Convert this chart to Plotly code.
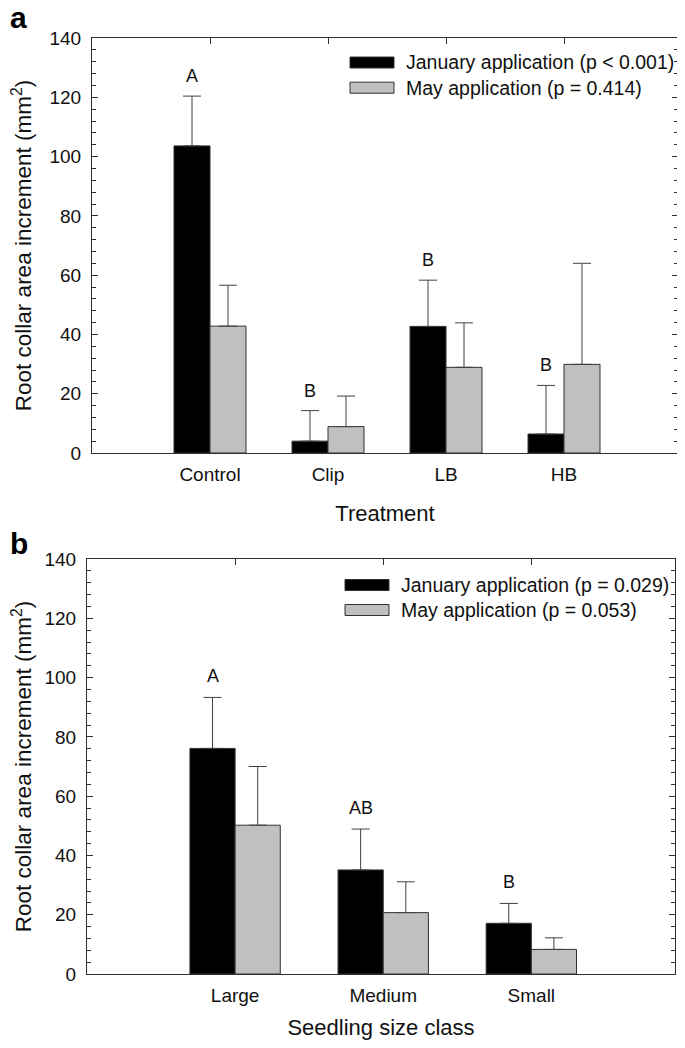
import plotly.graph_objects as go

# page body has an 8px default margin: the figure is drawn from (8, 8)
PAGE_W, PAGE_H = 685, 1048
OFFS = 8
W, H = PAGE_W - OFFS, PAGE_H - 2 * OFFS

# ---------------- data ----------------
treatments = ["Control", "Clip", "LB", "HB"]
jan_a = [103.6, 4.0, 42.7, 6.4]
jan_a_err = [16.8, 10.3, 15.6, 16.4]
may_a = [42.8, 8.9, 28.9, 29.9]
may_a_err = [13.8, 10.3, 15.0, 34.1]
letters_a = ["A", "B", "B", "B"]
legend_a = ["January application (p < 0.001)", "May application (p = 0.414)"]

sizes = ["Large", "Medium", "Small"]
jan_b = [76.1, 35.1, 17.1]
jan_b_err = [17.2, 13.8, 6.7]
may_b = [50.2, 20.7, 8.3]
may_b_err = [19.8, 10.4, 3.9]
letters_b = ["A", "AB", "B"]
legend_b = ["January application (p = 0.029)", "May application (p = 0.053)"]

y_tick_vals = [0, 20, 40, 60, 80, 100, 120, 140]

# ---------------- style ----------------
FONT = "Arial, Liberation Sans, Helvetica, sans-serif"
JAN_COLOR = "#000000"
MAY_COLOR = "#c0c0c0"
EDGE = "#303030"
AXC = "#303030"
BARGAP = 0.39
OFF = (1 - BARGAP) / 4.0


def px_x(p):
    return (p - OFFS) / W


def px_y(p):
    return 1 - (p - OFFS) / H


fig = go.Figure()


def add_panel(cats, jan, jan_err, may, may_err, xa, ya):
    xs = list(range(1, len(cats) + 1))
    fig.add_trace(go.Bar(
        x=xs, y=jan, xaxis=xa, yaxis=ya, showlegend=False,
        marker=dict(color=JAN_COLOR, line=dict(color=EDGE, width=1)),
        error_y=dict(type="data", array=jan_err, arrayminus=[0] * len(jan),
                     symmetric=False, color="#404040", thickness=1, width=9),
    ))
    fig.add_trace(go.Bar(
        x=xs, y=may, xaxis=xa, yaxis=ya, showlegend=False,
        marker=dict(color=MAY_COLOR, line=dict(color=EDGE, width=1)),
        error_y=dict(type="data", array=may_err, arrayminus=[0] * len(may),
                     symmetric=False, color="#404040", thickness=1, width=9),
    ))


add_panel(treatments, jan_a, jan_a_err, may_a, may_a_err, "x", "y")
add_panel(sizes, jan_b, jan_b_err, may_b, may_b_err, "x2", "y2")

common_x = dict(
    showline=True, linecolor=AXC, linewidth=1, mirror="ticks",
    ticks="inside", ticklen=6, tickcolor=AXC, tickwidth=1,
    showgrid=False, zeroline=False, layer="below traces", automargin=False,
    tickfont=dict(family=FONT, size=19, color="#111"),
    ticklabelstandoff=4,
)
common_y = dict(
    showline=True, linecolor=AXC, linewidth=1, mirror="ticks",
    ticks="inside", ticklen=6, tickcolor=AXC, tickwidth=1,
    minor=dict(dtick=4, ticks="inside", ticklen=4, tickcolor=AXC, tickwidth=1),
    showgrid=False, zeroline=False, range=[0, 140], automargin=False,
    tickvals=y_tick_vals, layer="below traces",
    tickfont=dict(family=FONT, size=19, color="#111"),
    ticklabelstandoff=6,
)
ytitle = "Root collar area increment (mm<sup>2</sup>)"

fig.update_layout(
    width=W, height=H,
    margin=dict(l=0, r=0, t=0, b=0),
    paper_bgcolor="white", plot_bgcolor="white",
    barmode="group", bargap=BARGAP, bargroupgap=0,
    xaxis=dict(common_x, domain=[px_x(92), px_x(678)], anchor="y",
               range=[0, 4.966], tickvals=list(range(1, len(treatments) + 1)),
               ticktext=treatments,
               title=dict(text="Treatment", standoff=21,
                          font=dict(family=FONT, size=22, color="#111"))),
    yaxis=dict(common_y, domain=[px_y(453), px_y(38)], anchor="x",
               title=dict(text=ytitle, standoff=13,
                          font=dict(family=FONT, size=22.5, color="#111"))),
    xaxis2=dict(common_x, domain=[px_x(87), px_x(675)], anchor="y2",
                range=[0, 3.97], tickvals=list(range(1, len(sizes) + 1)),
                ticktext=sizes,
                title=dict(text="Seedling size class", standoff=21,
                           font=dict(family=FONT, size=22, color="#111"))),
    yaxis2=dict(common_y, domain=[px_y(974), px_y(559)], anchor="x2",
                title=dict(text=ytitle, standoff=13,
                           font=dict(family=FONT, size=22.5, color="#111"))),
)

annotations = []
# significance letters above January bars
for i, (m, e, t) in enumerate(zip(jan_a, jan_a_err, letters_a)):
    annotations.append(dict(x=i + 1 - OFF, y=m + e, xref="x", yref="y", text=t,
                            showarrow=False, yanchor="bottom", yshift=8,
                            font=dict(family=FONT, size=18, color="#111")))
for i, (m, e, t) in enumerate(zip(jan_b, jan_b_err, letters_b)):
    annotations.append(dict(x=i + 1 - OFF, y=m + e, xref="x2", yref="y2", text=t,
                            showarrow=False, yanchor="bottom", yshift=9,
                            font=dict(family=FONT, size=18, color="#111")))

# panel labels
annotations.append(dict(x=px_x(8), y=px_y(17), xref="paper", yref="paper", text="<b>a</b>",
                        showarrow=False, xanchor="left", yanchor="middle",
                        font=dict(family=FONT, size=30, color="#000")))
annotations.append(dict(x=px_x(8), y=px_y(543), xref="paper", yref="paper", text="<b>b</b>",
                        showarrow=False, xanchor="left", yanchor="middle",
                        font=dict(family=FONT, size=30, color="#000")))

# legends (wide swatches like the original)
shapes = []


def add_legend(labels, x0, y_centers):
    for lab, yc, col in zip(labels, y_centers, [JAN_COLOR, MAY_COLOR]):
        shapes.append(dict(type="rect", xref="paper", yref="paper",
                           x0=px_x(x0), x1=px_x(x0 + 44),
                           y0=px_y(yc + 5.5), y1=px_y(yc - 5.5),
                           fillcolor=col, line=dict(color=EDGE, width=1)))
        annotations.append(dict(x=px_x(x0 + 54), y=px_y(yc), xref="paper", yref="paper",
                                text=lab, showarrow=False, xanchor="left", yanchor="middle",
                                font=dict(family=FONT, size=19.5, color="#111")))


add_legend(legend_a, 350, [62.5, 87.7])
add_legend(legend_b, 345, [585, 610])

fig.update_layout(annotations=annotations, shapes=shapes)

fig.write_html("out.html")
